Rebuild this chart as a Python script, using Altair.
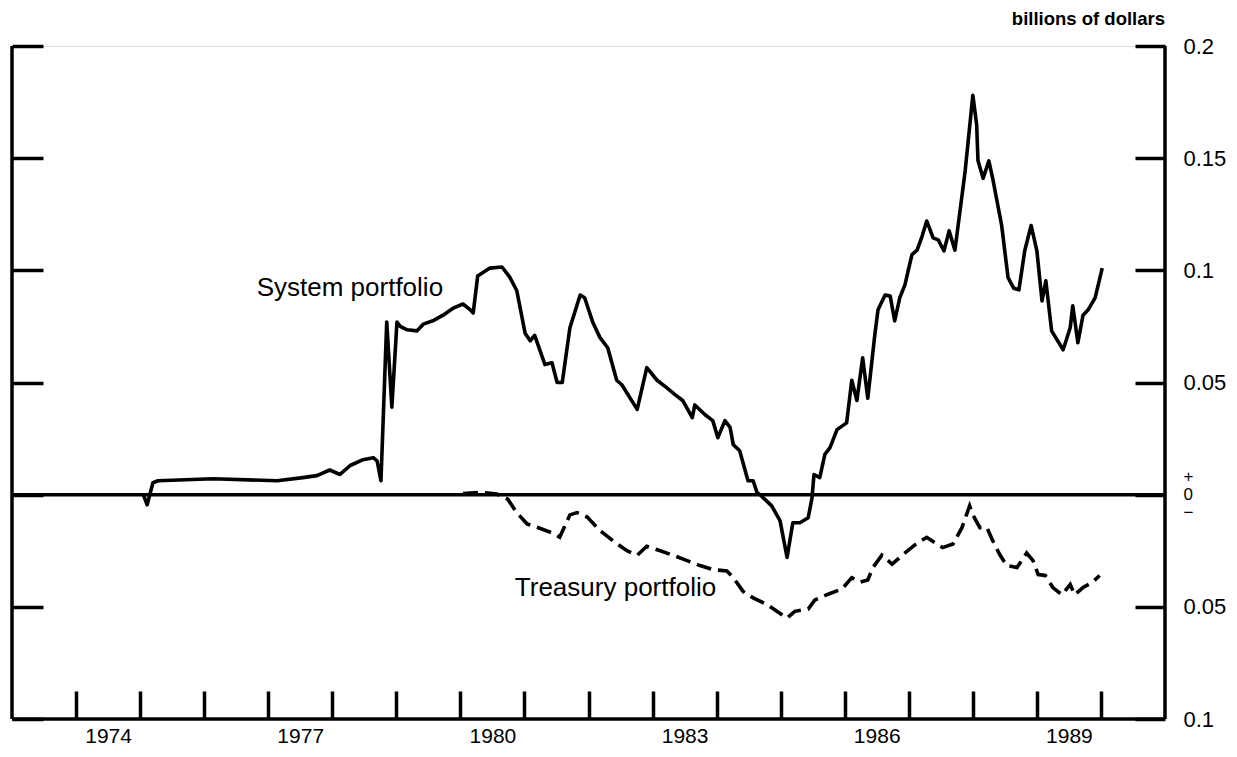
import altair as alt
import pandas as pd

# ---- data (decimal years, billions of dollars) ----
sys_year = [1975.05, 1975.11, 1975.20, 1975.28, 1976.14, 1977.14, 1977.54, 1977.76, 1977.96, 1978.12,
            1978.28, 1978.48, 1978.64, 1978.70, 1978.76, 1978.85, 1978.93, 1979.01, 1979.06, 1979.17,
            1979.32, 1979.42, 1979.57, 1979.73, 1979.88, 1980.04, 1980.15, 1980.20, 1980.27, 1980.46,
            1980.65, 1980.77, 1980.88, 1981.01, 1981.09, 1981.16, 1981.32, 1981.43, 1981.51, 1981.59,
            1981.71, 1981.87, 1981.94, 1982.07, 1982.18, 1982.30, 1982.44, 1982.52, 1982.76, 1982.91,
            1983.07, 1983.22, 1983.35, 1983.47, 1983.62, 1983.66, 1983.82, 1983.94, 1984.02, 1984.13,
            1984.21, 1984.26, 1984.36, 1984.49, 1984.57, 1984.63, 1984.68, 1984.75, 1984.86, 1984.99,
            1985.10, 1985.19, 1985.30, 1985.43, 1985.49, 1985.52, 1985.61, 1985.69, 1985.77, 1985.88,
            1986.03, 1986.11, 1986.19, 1986.28, 1986.36, 1986.47, 1986.52, 1986.63, 1986.71, 1986.78,
            1986.86, 1986.94, 1986.99, 1987.05, 1987.13, 1987.21, 1987.28, 1987.38, 1987.46, 1987.55,
            1987.63, 1987.72, 1987.80, 1987.88, 1988.00, 1988.06, 1988.08, 1988.16, 1988.25, 1988.31,
            1988.39, 1988.45, 1988.55, 1988.64, 1988.72, 1988.81, 1988.91, 1989.00, 1989.08, 1989.14,
            1989.23, 1989.41, 1989.52, 1989.56, 1989.64, 1989.72, 1989.80, 1989.91, 1990.02]
sys_value = [0.000, -0.0045, 0.0053, 0.0062, 0.0071, 0.0062, 0.0076, 0.0085, 0.011, 0.009,
             0.013, 0.0156, 0.0165, 0.015, 0.0062, 0.077, 0.039, 0.077, 0.075, 0.0735,
             0.073, 0.076, 0.0775, 0.080, 0.083, 0.085, 0.0825, 0.081, 0.0975, 0.101,
             0.1015, 0.097, 0.091, 0.072, 0.0686, 0.071, 0.058, 0.0588, 0.050, 0.050,
             0.0744, 0.089, 0.0878, 0.0766, 0.070, 0.0655, 0.051, 0.049, 0.038, 0.0566,
             0.051, 0.0477, 0.0446, 0.042, 0.0343, 0.040, 0.0356, 0.033, 0.0254, 0.033,
             0.030, 0.0223, 0.0196, 0.0062, 0.0062, 0.001, 0.000, -0.002, -0.005, -0.0116,
             -0.028, -0.0125, -0.0125, -0.0103, -0.0013, 0.009, 0.0076, 0.018, 0.021, 0.029,
             0.032, 0.051, 0.042, 0.061, 0.043, 0.0713, 0.0824, 0.089, 0.0885, 0.0775,
             0.0878, 0.0935, 0.0998, 0.107, 0.109, 0.1154, 0.122, 0.1145, 0.1136, 0.1087,
             0.1176, 0.109, 0.1265, 0.1443, 0.178, 0.1648, 0.149, 0.141, 0.1488, 0.141,
             0.129, 0.120, 0.0967, 0.092, 0.0913, 0.1087, 0.120, 0.1087, 0.0864, 0.0953,
             0.073, 0.0646, 0.0744, 0.0842, 0.0677, 0.080, 0.0824, 0.0878, 0.101]

tsy_year = [1980.04, 1980.31, 1980.57, 1980.74, 1980.88, 1981.04, 1981.24, 1981.43, 1981.55, 1981.71,
            1981.82, 1981.98, 1982.18, 1982.38, 1982.60, 1982.76, 1982.91, 1983.12, 1983.32, 1983.54,
            1983.74, 1983.94, 1984.16, 1984.26, 1984.41, 1984.57, 1984.79, 1984.94, 1985.10, 1985.22,
            1985.43, 1985.53, 1985.72, 1985.96, 1986.11, 1986.24, 1986.36, 1986.44, 1986.58, 1986.74,
            1986.91, 1987.10, 1987.28, 1987.44, 1987.53, 1987.69, 1987.83, 1987.95, 1988.00, 1988.11,
            1988.22, 1988.31, 1988.42, 1988.53, 1988.69, 1988.84, 1988.94, 1989.02, 1989.13, 1989.25,
            1989.39, 1989.52, 1989.59, 1989.72, 1989.87, 1989.98]
tsy_value = [0.0005, 0.001, 0.0003, -0.002, -0.008, -0.013, -0.015, -0.017, -0.019, -0.009,
             -0.008, -0.010, -0.016, -0.0205, -0.025, -0.027, -0.023, -0.025, -0.027, -0.0294,
             -0.0316, -0.0334, -0.034, -0.037, -0.043, -0.046, -0.049, -0.052, -0.055, -0.052,
             -0.051, -0.047, -0.0446, -0.042, -0.037, -0.039, -0.038, -0.0325, -0.027, -0.031,
             -0.0267, -0.0223, -0.019, -0.022, -0.0236, -0.022, -0.0147, -0.005, -0.009, -0.0147,
             -0.0147, -0.0205, -0.0267, -0.0316, -0.0325, -0.026, -0.0294, -0.0356, -0.036, -0.0414,
             -0.0446, -0.040, -0.0446, -0.0414, -0.039, -0.036]

year_ticks = list(range(1974, 1991))
value_ticks = [-0.1, -0.05, 0, 0.05, 0.1, 0.15, 0.2]

label_text = ["System portfolio", "Treasury portfolio"]
label_year = [1976.82, 1980.85]
label_value = [0.0886, -0.045]

X_DOMAIN = [1973, 1991]
Y_DOMAIN = [-0.1, 0.2]
FONT = "Liberation Sans"

sys_df = pd.DataFrame({"year": sys_year, "value": sys_value})
tsy_df = pd.DataFrame({"year": tsy_year, "value": tsy_value})
lab_df = pd.DataFrame({"text": label_text, "year": label_year, "value": label_value})
one_df = pd.DataFrame({"d": [0]})

xs = alt.Scale(domain=X_DOMAIN, nice=False, zero=False)
ys = alt.Scale(domain=Y_DOMAIN, nice=False, zero=False)

x_axis = alt.Axis(
    values=year_ticks, offset=-28, tickSize=28, tickWidth=3.5, tickColor="black",
    domain=False, grid=False, title=None,
    labelExpr="datum.value % 3 == 0 ? '' + datum.value : ''",
    labelOffset=32, labelPadding=6, labelFontSize=21, labelFont=FONT,
    labelColor="black", labelOverlap=False, labelFlush=False, labelBound=False,
)
left_axis = alt.Axis(
    orient="left", values=value_ticks, offset=-31, tickSize=31, tickWidth=3.5,
    tickColor="black", domain=False, labels=False, grid=False, title=None,
)
right_axis = alt.Axis(
    orient="right", values=value_ticks, offset=-30, tickSize=30, tickWidth=3.5,
    tickColor="black", domain=False, grid=False, title=None,
    labelExpr="datum.value == 0 ? ['+', '0', '\u2212'] : '' + abs(datum.value)",
    labelOffset={"condition": {"test": "datum.value == 0", "value": -18}, "value": 0},
    labelFontSize={"condition": {"test": "datum.value == 0", "value": 17}, "value": 22},
    labelPadding=18, labelFont=FONT, labelColor="black",
    labelLineHeight=18, labelOverlap=False, labelFlush=False, labelBound=False,
)

system = alt.Chart(sys_df).mark_line(color="black", strokeWidth=3.6, strokeJoin="round").encode(
    x=alt.X("year:Q", scale=xs, axis=x_axis),
    y=alt.Y("value:Q", scale=ys, axis=left_axis),
)
treasury = alt.Chart(tsy_df).mark_line(color="black", strokeWidth=3.6, strokeDash=[15, 7]).encode(
    x=alt.X("year:Q", scale=xs, axis=x_axis),
    y=alt.Y("value:Q", scale=ys, axis=left_axis),
)
labels = alt.Chart(lab_df).mark_text(
    align="left", baseline="alphabetic", fontSize=26, font=FONT, color="black"
).encode(
    x=alt.X("year:Q", scale=xs, axis=x_axis),
    y=alt.Y("value:Q", scale=ys, axis=left_axis),
    text="text:N",
)

left_line = alt.Chart(one_df).mark_rule(color="black", strokeWidth=3.5).encode(
    x=alt.datum(X_DOMAIN[0], scale=xs, axis=x_axis),
    y=alt.datum(Y_DOMAIN[0], scale=ys, axis=left_axis),
    y2=alt.datum(Y_DOMAIN[1]),
)
right_line = alt.Chart(one_df).mark_rule(color="black", strokeWidth=3.5).encode(
    x=alt.datum(X_DOMAIN[1], scale=xs, axis=x_axis),
    y=alt.datum(Y_DOMAIN[0], scale=ys, axis=left_axis),
    y2=alt.datum(Y_DOMAIN[1]),
)
bottom_line = alt.Chart(one_df).mark_rule(color="black", strokeWidth=3.5).encode(
    x=alt.datum(X_DOMAIN[0], scale=xs, axis=x_axis),
    x2=alt.datum(X_DOMAIN[1]),
    y=alt.datum(Y_DOMAIN[0], scale=ys, axis=left_axis),
)
main = alt.layer(system, treasury, labels, left_line, right_line, bottom_line)

zero_line = alt.Chart(one_df).mark_rule(color="black", strokeWidth=3.5).encode(
    x=alt.datum(X_DOMAIN[0], scale=xs, axis=x_axis),
    x2=alt.datum(X_DOMAIN[1]),
    y=alt.datum(0, scale=ys, axis=right_axis),
)

chart = alt.layer(main, zero_line).resolve_scale(y="independent").properties(
    width=1153,
    height=673,
    autosize=alt.AutoSizeParams(type="none"),
    padding={"left": 4, "top": 38, "right": 64, "bottom": 28},
    title=alt.TitleParams(
        "billions of dollars", anchor="end", frame="group", fontSize=18.5,
        fontWeight="bold", font=FONT, color="black", baseline="alphabetic", offset=-8,
    ),
).configure_view(stroke=None).configure(background="white")

chart.save("out.html", embed_options={"renderer": "svg", "actions": False})
